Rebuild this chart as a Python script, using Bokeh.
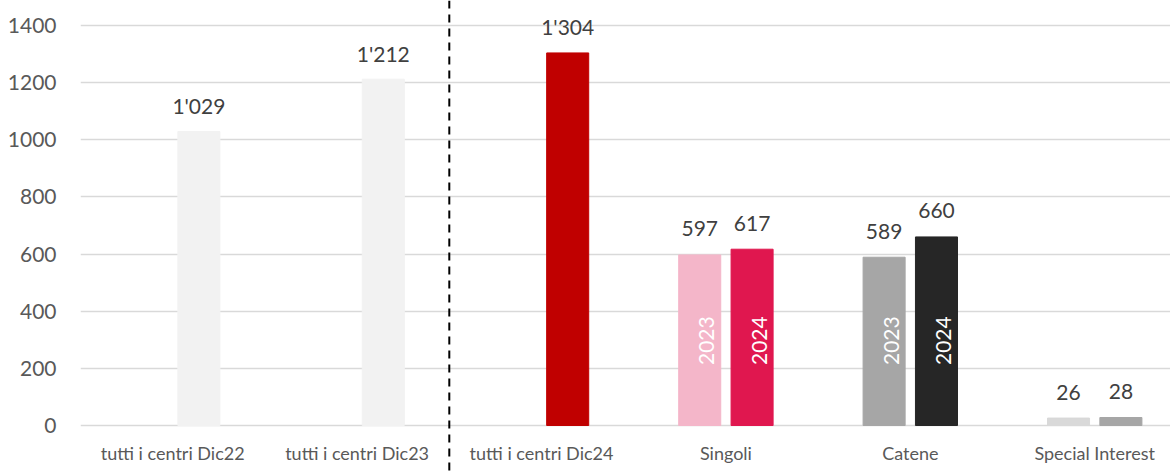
import math
from bokeh.plotting import figure
from bokeh.models import ColumnDataSource, FixedTicker, Span
from bokeh.core.properties import value
from bokeh.embed import file_html
from bokeh.resources import INLINE

categories = ["tutti i centri Dic22", "tutti i centri Dic23", "tutti i centri Dic24",
              "Singoli", "Catene", "Special Interest"]
values_2023 = [None, None, None, 597, 589, 26]
values_2024 = [1029, 1212, 1304, 617, 660, 28]
colors_2023 = [None, None, None, "#F4B6C9", "#A6A6A6", "#D9D9D9"]
colors_2024 = ["#F2F2F2", "#F2F2F2", "#C00000", "#E0174F", "#262626", "#A6A6A6"]
year_labels_2023 = [None, None, None, "2023", "2023", None]
year_labels_2024 = [None, None, None, "2024", "2024", None]
y_ticks = [0, 200, 400, 600, 800, 1000, 1200, 1400]

FONT = "Lato"
OFF = 0.142
BW = 0.228
W, H = 1170, 472
LEFT = 80
PX_PER_CAT = 184.4
PX_PER_UNIT = 400 / 1400
ZERO_Y = 425


def fmt(v):
    return f"{v:,}".replace(",", "'")


def build(vals, cols, labs, off):
    d = dict(x=[], top=[], color=[], label=[], ylab=[], ylab_y=[])
    for i, v in enumerate(vals):
        if v is None:
            continue
        d["x"].append(i + off)
        d["top"].append(v)
        d["color"].append(cols[i])
        d["label"].append(fmt(v))
        d["ylab"].append(labs[i] if labs[i] else "")
        d["ylab_y"].append(297)
    return ColumnDataSource(d)


src23 = build(values_2023, colors_2023, year_labels_2023, -OFF)
src24 = build(values_2024, colors_2024, year_labels_2024, OFF)

x_end = -0.5 + (W - LEFT) / PX_PER_CAT
y_start = -(H - ZERO_Y) / PX_PER_UNIT
y_end = ZERO_Y / PX_PER_UNIT
p = figure(width=W, height=H, x_range=(-0.5, x_end), y_range=(y_start, y_end),
           output_backend="svg", toolbar_location=None,
           min_border_top=0, min_border_right=0, min_border_bottom=0, min_border_left=LEFT)
p.outline_line_color = None
p.background_fill_color = "white"
p.border_fill_color = "white"
p.xgrid.visible = False
p.ygrid.ticker = FixedTicker(ticks=y_ticks)
p.ygrid.grid_line_color = "#D9D9D9"
p.ygrid.grid_line_width = 1.5

for src in (src23, src24):
    p.vbar(x="x", top="top", bottom=0, width=BW, color="color", source=src)
    p.text(x="x", y="top", text="label", source=src, text_align="center",
           text_baseline="alphabetic", y_offset=-26, text_font=value(FONT),
           text_font_size="21px", text_color="#404040")
    p.text(x="x", y="ylab_y", text="ylab", source=src, angle=math.pi / 2,
           text_align="center", text_baseline="middle", x_offset=7,
           text_font=value(FONT), text_font_size="21px", text_color="white")

p.add_layout(Span(location=1.5, dimension="height", line_color="black",
                  line_width=2, line_dash="8 6"))

xa = p.xaxis[0]
xa.ticker = FixedTicker(ticks=list(range(len(categories))))
xa.major_label_overrides = {i: c for i, c in enumerate(categories)}
xa.fixed_location = 0
xa.axis_line_color = None
xa.major_tick_line_color = None
xa.minor_tick_line_color = None
xa.major_label_standoff = 10
xa.major_label_text_font = FONT
xa.major_label_text_font_size = "18px"
xa.major_label_text_color = "#595959"

ya = p.yaxis[0]
ya.ticker = FixedTicker(ticks=y_ticks)
ya.axis_line_color = None
ya.major_tick_line_color = None
ya.minor_tick_line_color = None
ya.major_label_standoff = 18
ya.major_label_text_font = FONT
ya.major_label_text_font_size = "21px"
ya.major_label_text_color = "#595959"

open("out.html", "w").write(file_html(p, INLINE))
